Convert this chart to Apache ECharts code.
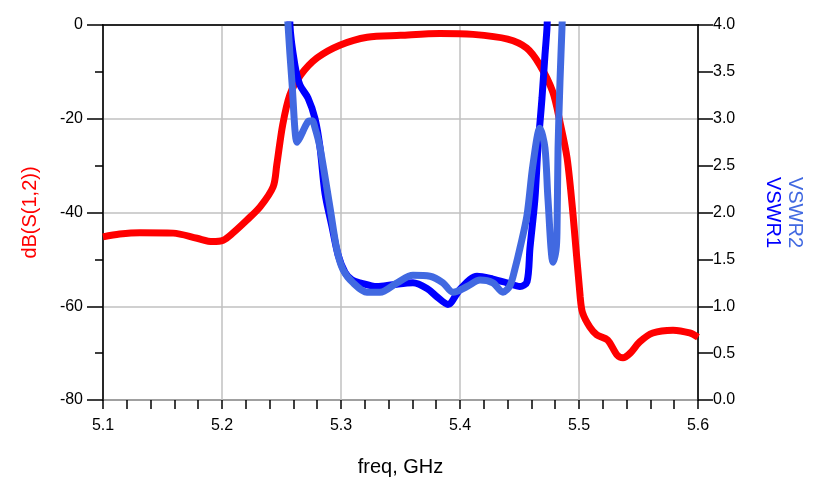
<!DOCTYPE html>
<html>
<head>
<meta charset="utf-8">
<script src="https://cdn.jsdelivr.net/npm/echarts@6/dist/echarts.min.js"></script>
<style>
  html, body { margin: 0; padding: 0; background: #fff; }
  #chart { width: 819px; height: 485px; }
</style>
</head>
<body>
<div id="chart"></div>
<script>
// dB(S(1,2))
var s12Freq = [5.100, 5.114, 5.131, 5.159, 5.179, 5.192, 5.201, 5.209, 5.221, 5.232,
               5.243, 5.246, 5.251, 5.257, 5.266, 5.280, 5.299, 5.322, 5.350, 5.383,
               5.411, 5.440, 5.456, 5.467, 5.478, 5.484, 5.490, 5.495, 5.501, 5.503,
               5.509, 5.515, 5.524, 5.532, 5.537, 5.543, 5.551, 5.562, 5.579, 5.593, 5.600];
var s12Db   = [-45.2, -44.6, -44.3, -44.4, -45.5, -46.2, -45.9, -44.4, -41.6, -38.8,
               -34.5, -29.9, -21.3, -14.9, -10.7, -7.0, -4.3, -2.6, -2.2, -1.8,
               -2.0, -3.0, -4.9, -8.5, -14.3, -20.7, -28.4, -40.5, -58.0, -61.4,
               -64.4, -66.1, -67.2, -70.4, -71.0, -70.0, -67.6, -65.7, -65.1, -65.7, -66.6];

// VSWR1
var vswr1Freq = [5.2568, 5.2571, 5.2613, 5.2655, 5.2723, 5.2782, 5.2824, 5.2866, 5.2924, 5.2975,
                 5.3034, 5.3092, 5.3160, 5.3303, 5.3437, 5.3605, 5.3723, 5.3807, 5.3899, 5.4000,
                 5.4143, 5.4277, 5.4395, 5.4504, 5.4563, 5.4588, 5.4630, 5.4655, 5.4689, 5.4714,
                 5.4731, 5.4739];
var vswr1Val  = [4.3, 4.0, 3.57, 3.36, 3.22, 3.0, 2.69, 2.2, 1.85, 1.55,
                 1.36, 1.28, 1.25, 1.21, 1.23, 1.25, 1.19, 1.1, 1.02, 1.18,
                 1.32, 1.29, 1.25, 1.21, 1.26, 1.62, 2.15, 2.69, 3.22, 3.68,
                 3.97, 4.3];

// VSWR2
var vswr2Freq = [5.2546, 5.2555, 5.2588, 5.2630, 5.2655, 5.2723, 5.2756, 5.2782, 5.2824, 5.2908,
                 5.2966, 5.3017, 5.3101, 5.3218, 5.3328, 5.3471, 5.3605, 5.3748, 5.3857, 5.3941,
                 5.4059, 5.4168, 5.4277, 5.4361, 5.4420, 5.4462, 5.4504, 5.4563, 5.4613, 5.4672,
                 5.4714, 5.4739, 5.4782, 5.4807, 5.4815, 5.4824, 5.4840, 5.4857, 5.4866];
var vswr2Val  = [4.3, 4.0, 3.39, 2.75, 2.8, 2.97, 2.98, 2.9, 2.69, 2.05,
                 1.6, 1.39, 1.25, 1.15, 1.15, 1.25, 1.33, 1.32, 1.25, 1.15,
                 1.21, 1.28, 1.25, 1.15, 1.22, 1.4, 1.62, 1.97, 2.51, 2.9,
                 2.69, 2.15, 1.47, 1.6, 1.79, 2.69, 3.39, 3.97, 4.3];

function pairs(xs, ys) {
  var out = [];
  for (var i = 0; i < xs.length; i++) out.push([xs[i], ys[i]]);
  return out;
}

var font = 'Liberation Sans, Arial, sans-serif';
var gridColor = '#c0c0c0';
var tickStyle = { color: '#000', width: 1.5 };

var chart = echarts.init(document.getElementById('chart'));

var option = {
  animation: false,
  grid: {
    left: 103, right: 121, top: 25, bottom: 85,
    show: true, borderColor: '#000', borderWidth: 1.5
  },
  xAxis: [
    {
      type: 'value',
      position: 'bottom',
      min: 5.1, max: 5.6, interval: 0.1,
      name: 'freq, GHz',
      nameLocation: 'middle',
      nameGap: 57,
      nameTextStyle: { fontFamily: font, fontSize: 20, color: '#000' },
      axisLine: { lineStyle: tickStyle },
      axisTick: { show: false },
      axisLabel: {
        fontFamily: font, fontSize: 16, color: '#000', margin: 18,
        formatter: function (v) { return v.toFixed(1); }
      },
      splitLine: { show: true, lineStyle: { color: gridColor, width: 1.5 } }
    },
    {
      // ticks every 0.02 GHz
      type: 'value',
      position: 'bottom',
      min: 5.1, max: 5.6, interval: 0.02,
      axisLine: { show: false },
      axisTick: { show: true, length: 9, lineStyle: tickStyle },
      axisLabel: { show: false },
      splitLine: { show: false }
    }
  ],
  yAxis: [
    {
      type: 'value',
      position: 'left',
      min: -80, max: 0, interval: 20,
      name: 'dB(S(1,2))',
      nameLocation: 'middle',
      nameRotate: 90,
      nameGap: 63,
      nameTextStyle: { fontFamily: font, fontSize: 20, color: '#ff0000' },
      axisLine: { show: true, lineStyle: tickStyle },
      axisTick: { show: true, length: 16, lineStyle: tickStyle },
      minorTick: { show: true, splitNumber: 2, length: 8, lineStyle: tickStyle },
      axisLabel: { fontFamily: font, fontSize: 16, color: '#000', margin: 20 },
      splitLine: { show: true, lineStyle: { color: gridColor, width: 1.5 } }
    },
    {
      type: 'value',
      position: 'right',
      min: 0, max: 4, interval: 0.5,
      name: '{a|VSWR2}\n{b|VSWR1}',
      nameLocation: 'middle',
      nameRotate: -90,
      nameGap: 64,
      nameTextStyle: {
        fontFamily: font, fontSize: 20, lineHeight: 22,
        rich: {
          a: { fontFamily: font, fontSize: 20, lineHeight: 22, color: '#4169e1' },
          b: { fontFamily: font, fontSize: 20, lineHeight: 22, color: '#0000ff' }
        }
      },
      axisLine: { show: true, lineStyle: tickStyle },
      axisTick: { show: true, length: 15, lineStyle: tickStyle },
      axisLabel: {
        fontFamily: font, fontSize: 16, color: '#000', margin: 15,
        formatter: function (v) { return v.toFixed(1); }
      },
      splitLine: { show: false }
    }
  ],
  series: [
    {
      name: 'dB(S(1,2))',
      type: 'line',
      yAxisIndex: 0,
      data: pairs(s12Freq, s12Db),
      showSymbol: false,
      smooth: 0.3,
      lineStyle: { color: '#ff0000', width: 7 },
      z: 2
    },
    {
      name: 'VSWR1',
      type: 'line',
      yAxisIndex: 1,
      data: pairs(vswr1Freq, vswr1Val),
      showSymbol: false,
      smooth: 0.3,
      lineStyle: { color: '#0000ff', width: 7 },
      z: 3
    },
    {
      name: 'VSWR2',
      type: 'line',
      yAxisIndex: 1,
      data: pairs(vswr2Freq, vswr2Val),
      showSymbol: false,
      smooth: 0.3,
      lineStyle: { color: '#4169e1', width: 7 },
      z: 4
    }
  ]
};

chart.setOption(option);
</script>
</body>
</html>
